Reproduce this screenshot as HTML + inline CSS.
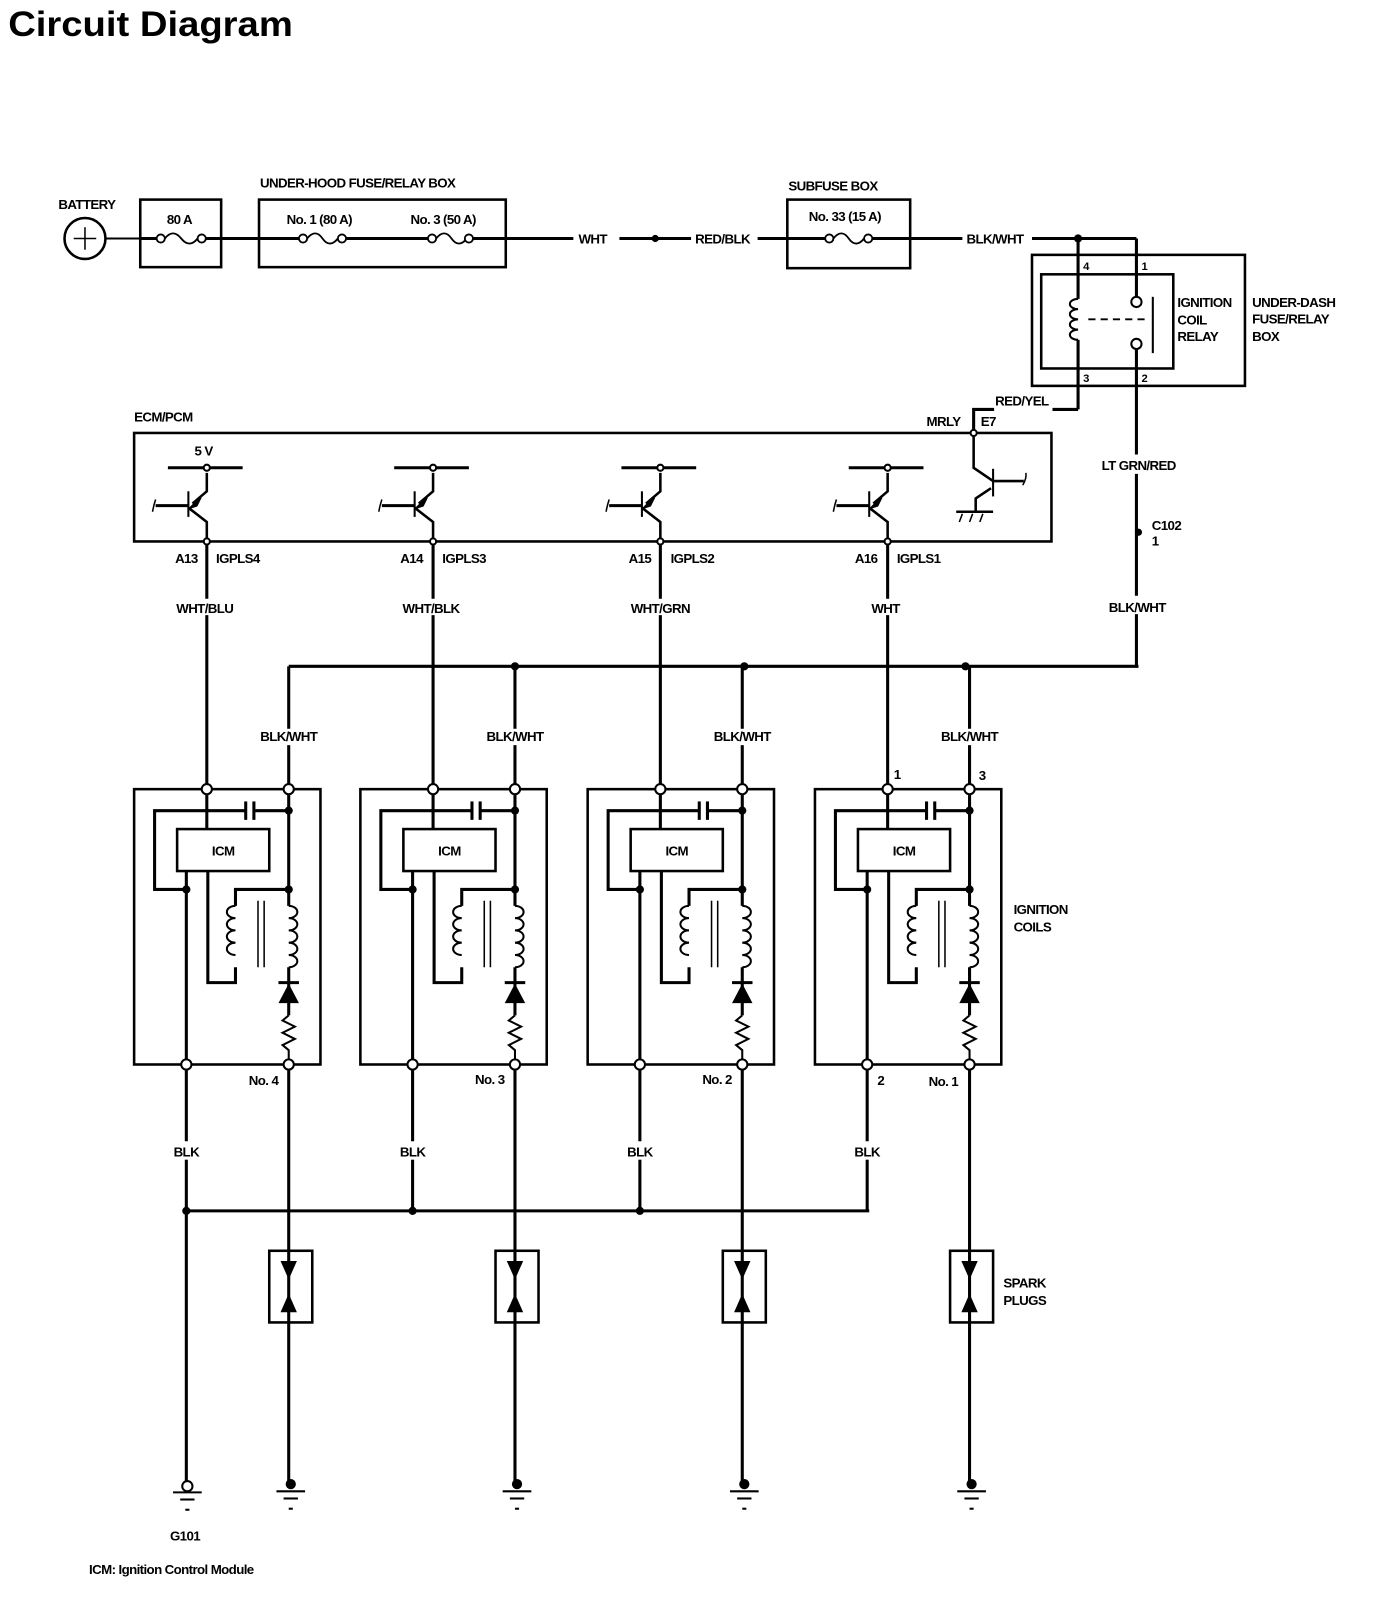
<!DOCTYPE html>
<html><head><meta charset="utf-8"><style>
html,body{margin:0;padding:0;background:#fff;}
svg{display:block;}
text{font-family:"Liberation Sans Narrow","Liberation Sans",sans-serif;font-weight:bold;font-size:13px;fill:#000;letter-spacing:-0.6px;}
</style></head><body>
<svg width="1376" height="1608" viewBox="0 0 1344 1571" preserveAspectRatio="none" xmlns="http://www.w3.org/2000/svg">
<defs>
<g id="coil" fill="none" stroke="#000" stroke-width="2">
  <rect x="131" y="771" width="182" height="269" stroke-width="2.5"/>
  <line x1="202" y1="771" x2="202" y2="810" stroke-width="3"/>
  <rect x="173" y="810" width="90" height="41" stroke-width="2.5"/>
  <text x="218" y="836" text-anchor="middle" stroke="none">ICM</text>
  <polyline points="282,792 248,792" stroke-width="3"/>
  <line x1="248" y1="783" x2="248" y2="801" stroke-width="3"/>
  <line x1="240" y1="783" x2="240" y2="801" stroke-width="3"/>
  <polyline points="240,792 151,792 151,869 182,869" stroke-width="3"/>
  <line x1="182" y1="851" x2="182" y2="1040" stroke-width="3"/>
  <polyline points="203,851 203,960 230,960 230,945" stroke-width="3"/>
  <polyline points="230,885 230,869 282,869" stroke-width="3"/>
  <path d="M230,885 a7,5 0 1,0 0,12 a7,5 0 1,0 0,12 a7,5 0 1,0 0,12 a7,5 0 1,0 0,12" stroke-width="2"/>
  <line x1="252" y1="880" x2="252" y2="945" stroke-width="1.5"/>
  <line x1="258" y1="880" x2="258" y2="945" stroke-width="1.5"/>
  <line x1="282" y1="771" x2="282" y2="885" stroke-width="3"/>
  <path d="M282,885 a7,5 0 1,1 0,12 a7,5 0 1,1 0,12 a7,5 0 1,1 0,12 a7,5 0 1,1 0,12 a7,5 0 1,1 0,12" stroke-width="2"/>
  <line x1="282" y1="945" x2="282" y2="992" stroke-width="3"/>
  <line x1="272" y1="960" x2="292" y2="960" stroke-width="3"/>
  <polygon points="282,961 272,980 292,980" fill="#000" stroke="none"/>
  <polyline points="282,992 276,997 288,1003 276,1009 288,1015 276,1021 282,1026 282,1040" stroke-width="2"/>
  <circle cx="182" cy="869" r="4" fill="#000" stroke="none"/>
  <circle cx="282" cy="869" r="4" fill="#000" stroke="none"/>
  <circle cx="282" cy="792" r="4" fill="#000" stroke="none"/>
  <circle cx="202" cy="771" r="5" fill="#fff"/>
  <circle cx="282" cy="771" r="5" fill="#fff"/>
  <circle cx="182" cy="1040" r="5" fill="#fff"/>
  <circle cx="282" cy="1040" r="5" fill="#fff"/>
  <text x="182" y="1130" text-anchor="middle" stroke="none">BLK</text>
  <text x="282" y="724" text-anchor="middle" stroke="none">BLK/WHT</text>
  <line x1="182" y1="1045" x2="182" y2="1115" stroke-width="3"/>
  <line x1="182" y1="1133" x2="182" y2="1183" stroke-width="3"/>
  <line x1="282" y1="1045" x2="282" y2="1448" stroke-width="3"/>
  <line x1="282" y1="651" x2="282" y2="712" stroke-width="3"/>
  <line x1="282" y1="728" x2="282" y2="766" stroke-width="3"/>
  <line x1="202" y1="529" x2="202" y2="585" stroke-width="3"/>
  <line x1="202" y1="601" x2="202" y2="766" stroke-width="3"/>
  <rect x="263" y="1222" width="42" height="70" stroke-width="2.5"/>
  <polygon points="274,1232 290,1232 282,1250" fill="#000" stroke="none"/>
  <polygon points="274,1282 290,1282 282,1264" fill="#000" stroke="none"/>
  <circle cx="284" cy="1450" r="5" fill="#000" stroke="none"/>
  <line x1="270" y1="1457" x2="298" y2="1457"/>
  <line x1="277" y1="1464" x2="291" y2="1464"/>
  <line x1="282" y1="1474" x2="286" y2="1474"/>
  <line x1="164" y1="457" x2="237" y2="457" stroke-width="3"/>
  <polyline points="202,462 202,480 188,492" stroke-width="2.5"/>
  <polygon points="186,496 196,486 192,494" fill="#000"/>
  <line x1="184" y1="480" x2="184" y2="505" stroke-width="2"/>
  <line x1="152" y1="494" x2="184" y2="494" stroke-width="3"/>
  <path d="M152,488 q-2,6 -3,12" stroke-width="1.5"/>
  <polyline points="184,496 202,510 202,529" stroke-width="2.5"/>
  <circle cx="202" cy="457" r="3" fill="#fff"/>
  <circle cx="202" cy="529" r="3" fill="#fff"/>
</g>
</defs>
<rect width="1344" height="1571" fill="#fff"/>
<text x="8" y="35" style="font-size:34px;letter-spacing:0;font-family:'Liberation Sans',sans-serif" textLength="278" lengthAdjust="spacingAndGlyphs">Circuit Diagram</text>

<g fill="none" stroke="#000" stroke-width="3">
<circle cx="83" cy="233" r="20" stroke-width="2.5"/>
<line x1="72" y1="233" x2="94" y2="233" stroke-width="1.5"/><line x1="83" y1="222" x2="83" y2="244" stroke-width="1.5"/>
<line x1="103" y1="233" x2="137" y2="233" stroke-width="2"/>
<rect x="137" y="195" width="79" height="66" stroke-width="2.5"/>
<rect x="253" y="195" width="241" height="66" stroke-width="2.5"/>
<rect x="769" y="195" width="120" height="67" stroke-width="2.5"/>
<line x1="137" y1="233" x2="153" y2="233"/><line x1="201" y1="233" x2="292" y2="233"/>
<line x1="338" y1="233" x2="418" y2="233"/><line x1="462" y1="233" x2="560" y2="233"/>
<line x1="605" y1="233" x2="675" y2="233"/><line x1="740" y1="233" x2="806" y2="233"/>
<line x1="852" y1="233" x2="940" y2="233"/><line x1="1008" y1="233" x2="1110" y2="233"/>
<g stroke-width="1.8">
<circle cx="157" cy="233" r="4" fill="#fff"/><path d="M161,233 q8,-10 16,0 t16,0"/><circle cx="197" cy="233" r="4" fill="#fff"/>
<circle cx="296" cy="233" r="4" fill="#fff"/><path d="M300,233 q8,-10 15,0 t15,0"/><circle cx="334" cy="233" r="4" fill="#fff"/>
<circle cx="422" cy="233" r="4" fill="#fff"/><path d="M426,233 q8,-10 15,0 t15,0"/><circle cx="458" cy="233" r="4" fill="#fff"/>
<circle cx="810" cy="233" r="4" fill="#fff"/><path d="M814,233 q8,-10 15,0 t15,0"/><circle cx="848" cy="233" r="4" fill="#fff"/>
</g>
<circle cx="640" cy="233" r="3.5" fill="#000" stroke="none"/>
<rect x="1008" y="249" width="208" height="128" stroke-width="2.5"/>
<rect x="1017" y="268" width="129" height="92" stroke-width="2.5"/>
<circle cx="1053" cy="233" r="4" fill="#000" stroke="none"/>
<polyline points="1053,233 1053,292"/>
<polyline points="1110,233 1110,290"/>
<path d="M1053,292 a8,5 0 1,0 0,10 a8,5 0 1,0 0,10 a8,5 0 1,0 0,10 a8,5 0 1,0 0,10" stroke-width="2"/>
<line x1="1053" y1="332" x2="1053" y2="400"/>
<polyline points="1053,400 1028,400"/>
<polyline points="971,400 951,400 951,423"/>
<circle cx="1110" cy="295" r="5" stroke-width="2"/><circle cx="1110" cy="336" r="5" stroke-width="2"/>
<line x1="1126" y1="290" x2="1126" y2="345" stroke-width="2"/>
<line x1="1063" y1="312" x2="1120" y2="312" stroke-width="1.8" stroke-dasharray="7,5"/>
<line x1="1110" y1="341" x2="1110" y2="444"/>
<line x1="1110" y1="463" x2="1110" y2="582"/>
<line x1="1110" y1="600" x2="1110" y2="651"/>
<circle cx="1112" cy="520" r="3.5" fill="#000" stroke="none"/>
<rect x="131" y="423" width="896" height="106" stroke-width="2.5"/>
<polyline points="951,423 951,457 970,470" stroke-width="2.5"/>
<line x1="970" y1="458" x2="970" y2="485" stroke-width="2"/>
<line x1="970" y1="470" x2="1000" y2="470" stroke-width="2.5"/>
<path d="M1002,462 q1,5 -3,12" stroke-width="1.5"/>
<polyline points="968,477 953,487 953,500" stroke-width="2.5"/>
<line x1="934" y1="500" x2="970" y2="500" stroke-width="2.5"/>
<path d="M940,502 l-3,8 M950,502 l-3,8 M960,502 l-3,8" stroke-width="1.5"/>
<circle cx="951" cy="423" r="3" fill="#fff" stroke-width="2"/>
<line x1="282" y1="651" x2="1112" y2="651"/>
<line x1="182" y1="1183" x2="849" y2="1183"/>
<circle cx="503" cy="651" r="4" fill="#000" stroke="none"/><circle cx="727" cy="651" r="4" fill="#000" stroke="none"/><circle cx="943" cy="651" r="4" fill="#000" stroke="none"/>
<circle cx="182" cy="1183" r="4" fill="#000" stroke="none"/><circle cx="403" cy="1183" r="4" fill="#000" stroke="none"/><circle cx="625" cy="1183" r="4" fill="#000" stroke="none"/>
<line x1="182" y1="1183" x2="182" y2="1448"/>
<circle cx="183" cy="1452" r="5" fill="#fff" stroke-width="2"/>
<g stroke-width="2"><line x1="169" y1="1458" x2="197" y2="1458"/><line x1="176" y1="1465" x2="190" y2="1465"/><line x1="181" y1="1475" x2="185" y2="1475"/></g>
</g>
<use href="#coil"/>
<use href="#coil" transform="translate(221,0)"/>
<use href="#coil" transform="translate(443,0)"/>
<use href="#coil" transform="translate(665,0)"/>

<text x="57" y="204">BATTERY</text>
<text x="163" y="219">80 A</text>
<text x="254" y="183">UNDER-HOOD FUSE/RELAY BOX</text>
<text x="280" y="219">No. 1 (80 A)</text>
<text x="401" y="219">No. 3 (50 A)</text>
<text x="565" y="238">WHT</text>
<text x="679" y="238">RED/BLK</text>
<text x="770" y="186">SUBFUSE BOX</text>
<text x="790" y="216">No. 33 (15 A)</text>
<text x="944" y="238">BLK/WHT</text>
<text x="1058" y="264" style="font-size:11px">4</text><text x="1115" y="264" style="font-size:11px">1</text>
<text x="1058" y="373" style="font-size:11px">3</text><text x="1115" y="373" style="font-size:11px">2</text>
<text x="1150" y="300">IGNITION</text><text x="1150" y="317">COIL</text><text x="1150" y="333">RELAY</text>
<text x="1223" y="300">UNDER-DASH</text><text x="1223" y="316">FUSE/RELAY</text><text x="1223" y="333">BOX</text>
<text x="972" y="396">RED/YEL</text>
<text x="905" y="416">MRLY</text><text x="958" y="416">E7</text>
<text x="131" y="412">ECM/PCM</text>
<text x="190" y="445">5 V</text>
<text x="1076" y="459">LT GRN/RED</text>
<text x="1125" y="518">C102</text><text x="1125" y="533">1</text>
<text x="1083" y="598">BLK/WHT</text>
<text x="171" y="550">A13</text><text x="211" y="550">IGPLS4</text>
<text x="391" y="550">A14</text><text x="432" y="550">IGPLS3</text>
<text x="614" y="550">A15</text><text x="655" y="550">IGPLS2</text>
<text x="835" y="550">A16</text><text x="876" y="550">IGPLS1</text>
<text x="200" y="599" text-anchor="middle">WHT/BLU</text>
<text x="421" y="599" text-anchor="middle">WHT/BLK</text>
<text x="645" y="599" text-anchor="middle">WHT/GRN</text>
<text x="865" y="599" text-anchor="middle">WHT</text>
<text x="873" y="761">1</text><text x="956" y="762">3</text>
<text x="857" y="1060">2</text>
<text x="243" y="1060">No. 4</text><text x="464" y="1059">No. 3</text><text x="686" y="1059">No. 2</text><text x="907" y="1061">No. 1</text>
<text x="990" y="893">IGNITION</text><text x="990" y="910">COILS</text>
<text x="980" y="1258">SPARK</text><text x="980" y="1275">PLUGS</text>
<text x="166" y="1505">G101</text>
<text x="87" y="1538">ICM: Ignition Control Module</text>
</svg>
</body></html>
